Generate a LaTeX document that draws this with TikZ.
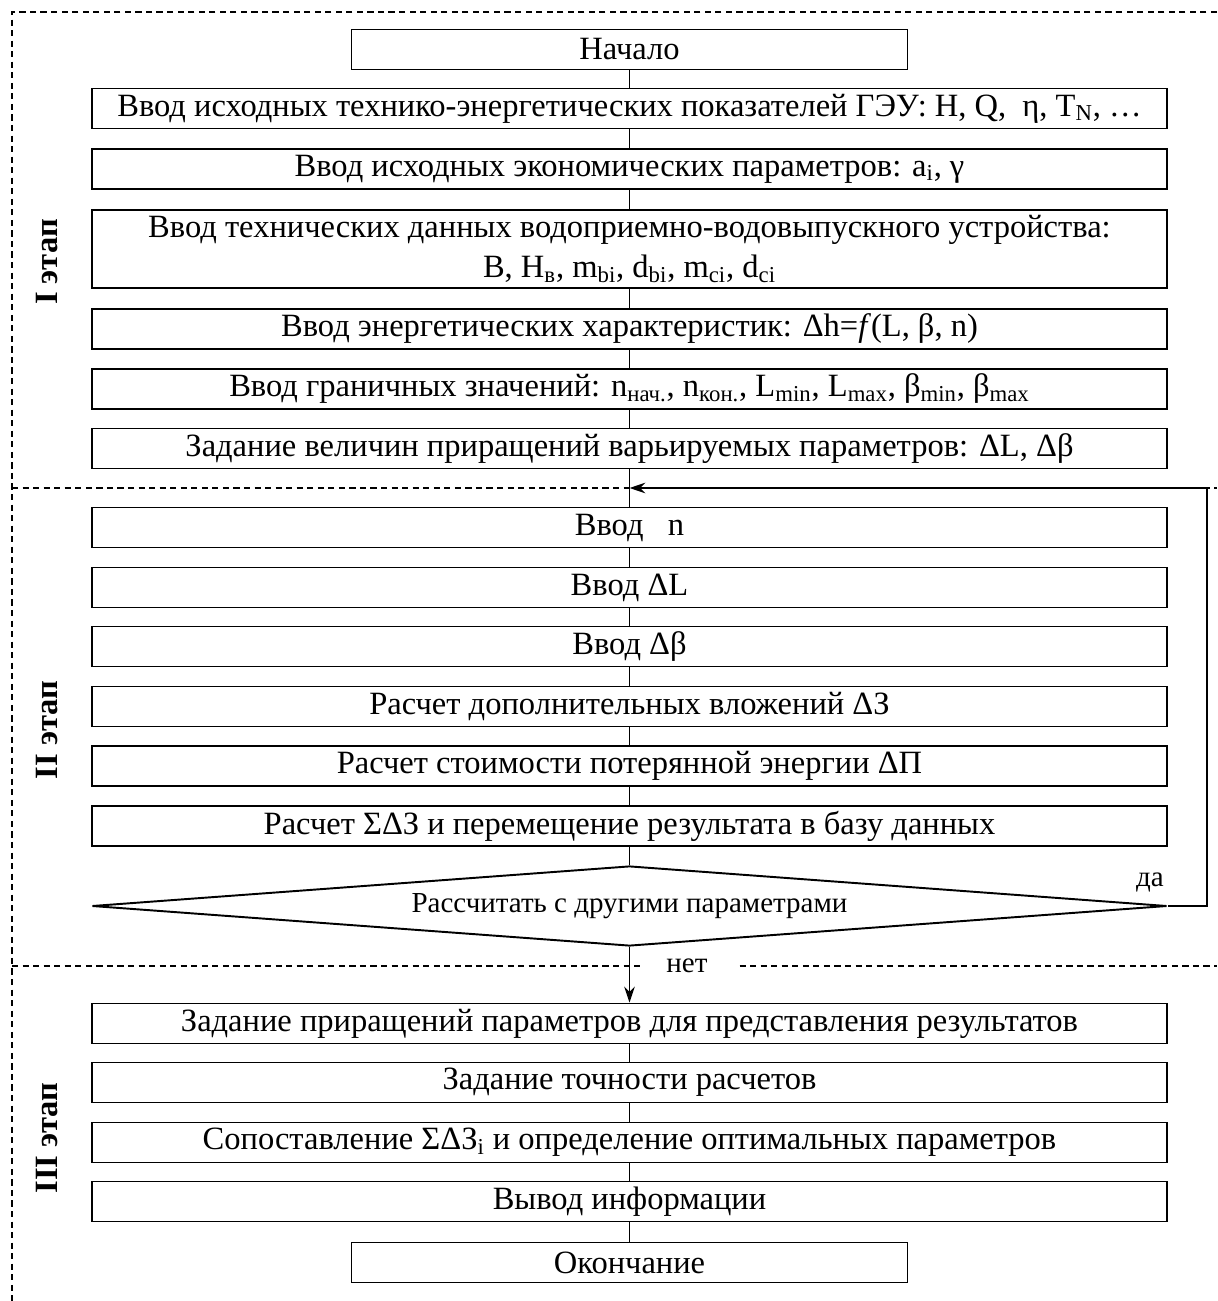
\documentclass[tikz,border=0pt]{standalone}
\usepackage{fontspec}
\setmainfont{Liberation Serif}
\usetikzlibrary{shapes.geometric,arrows.meta}

\begin{document}
\begin{tikzpicture}[every node/.style={font=\fontsize{18.5}{23}\selectfont},
  box/.style={draw,line width=1.1pt,minimum width=21.5cm,minimum height=0.8cm,inner sep=0pt,align=center},
  term/.style={box,minimum width=11.12cm},
  link/.style={line width=0.6pt},
  sep/.style={dash pattern=on 3.5pt off 2.5pt,line width=0.9pt},
  small/.style={font=\fontsize{16.5}{19}\selectfont},
  stage/.style={rotate=90,font=\fontsize{18.5}{21}\selectfont\bfseries}]
  \useasboundingbox (0,0) rectangle (24.34,-26.02);
  % stage frame
  \draw[sep] (24.34,-0.24) -- (0.24,-0.24) -- (0.24,-26.02);
  \draw[sep] (0.24,-9.76) -- (24.34,-9.76);
  \draw[sep] (0.24,-19.32) -- (24.34,-19.32);
  \node[stage] (st1) at (0.94,-5.24) {I этап};
  \node[stage] (st2) at (0.94,-14.6) {II этап};
  \node[stage] (st3) at (0.94,-22.76) {III этап};
  % stage I
  \node[term] (start) at (12.59,-0.99) {Начало};
  \node[box] (teh) at (12.59,-2.17) {Ввод исходных технико-энергетических показателей ГЭУ: H, Q,\ \ η, T\textsubscript{N}, …};
  \node[box] (econ) at (12.59,-3.38) {Ввод исходных экономических параметров: a\textsubscript{i}, γ};
  \node[box,minimum height=1.56cm] (dev) at (12.59,-4.98) {Ввод технических данных водоприемно-водовыпускного устройства:\\B, H\textsubscript{в}, m\textsubscript{bi}, d\textsubscript{bi}, m\textsubscript{ci}, d\textsubscript{ci}};
  \node[box] (energ) at (12.59,-6.58) {Ввод энергетических характеристик: Δh=\textit{f}(L,\ β, n)};
  \node[box] (bound) at (12.59,-7.78) {Ввод граничных значений: n\textsubscript{нач.}, n\textsubscript{кон.}, L\textsubscript{min}, L\textsubscript{max}, β\textsubscript{min}, β\textsubscript{max}};
  \node[box] (incr) at (12.59,-8.97) {Задание величин приращений варьируемых параметров: ΔL, Δβ};
  % stage II
  \node[box] (inn) at (12.59,-10.55) {Ввод \ \ n};
  \node[box] (inL) at (12.59,-11.75) {Ввод ΔL};
  \node[box] (inb) at (12.59,-12.93) {Ввод Δβ};
  \node[box] (addc) at (12.59,-14.13) {Расчет дополнительных вложений ΔЗ};
  \node[box] (loss) at (12.59,-15.32) {Расчет стоимости потерянной энергии ΔП};
  \node[box] (sum) at (12.59,-16.52) {Расчет ΣΔЗ и перемещение результата в базу данных};
  \node[diamond,draw,aspect=13.4,line width=1.1pt,minimum width=21.5cm,minimum height=1.6cm,inner sep=0pt,small] (ask) at (12.59,-18.12) {Рассчитать с другими параметрами};
  % stage III
  \node[box] (res1) at (12.59,-20.47) {Задание приращений параметров для представления результатов};
  \node[box] (acc) at (12.59,-21.65) {Задание точности расчетов};
  \node[box] (cmp) at (12.59,-22.85) {Сопоставление ΣΔЗ\textsubscript{i} и определение оптимальных параметров};
  \node[box] (out) at (12.59,-24.03) {Вывод информации};
  \node[term] (stop) at (12.59,-25.25) {Окончание};
  \foreach \a/\b in {start/teh,teh/econ,econ/dev,dev/energ,energ/bound,bound/incr,incr/inn,inn/inL,inL/inb,inb/addc,addc/loss,loss/sum,sum/ask,res1/acc,acc/cmp,cmp/out,out/stop}
    \draw[link] (\a) -- (\b);
  % loop and exit
  \coordinate (join) at (12.59,-9.76);
  \draw[line width=1.1pt,-{Stealth[length=9pt,width=6pt]}] (ask.east) -- (24.14,-18.12) |- (join);
  \node[small] (yes) at (23.0,-17.64) {да};
  \node[fill=white,minimum width=1.9cm,inner sep=1pt,small] (no) at (13.74,-19.32) {нет};
  \draw[line width=0.9pt,-{Stealth[length=9pt,width=6pt]}] (ask) -- (res1);
\end{tikzpicture}
\end{document}
